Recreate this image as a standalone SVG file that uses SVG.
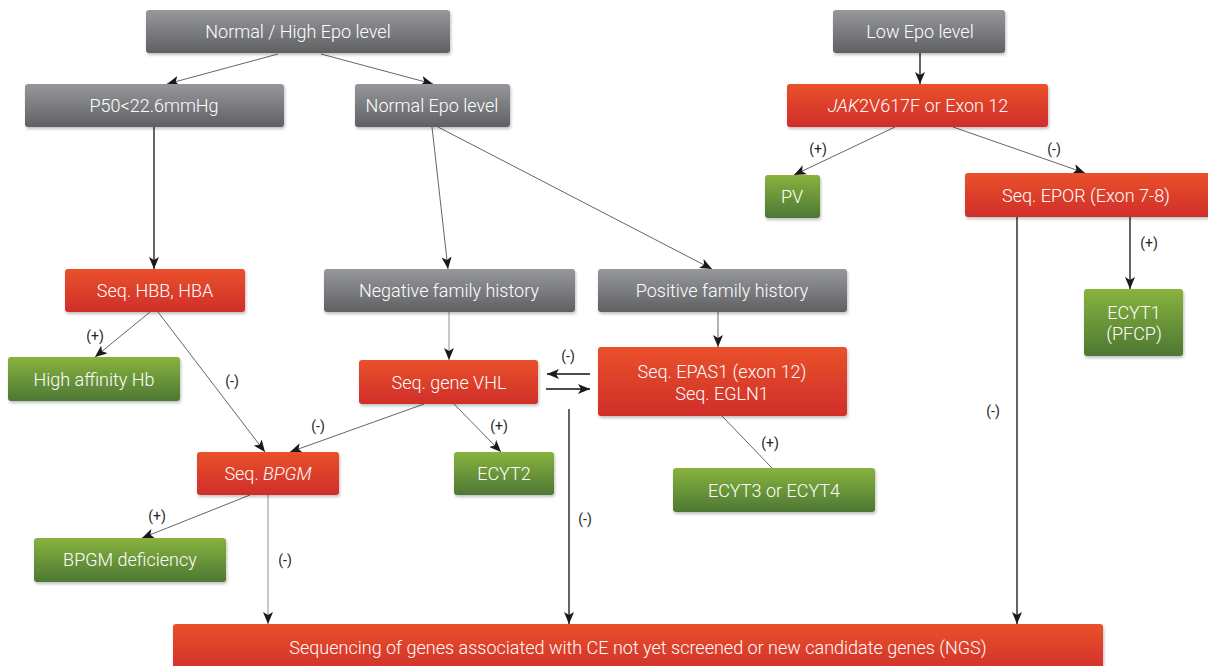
<svg xmlns="http://www.w3.org/2000/svg" width="1208" height="666" viewBox="0 0 1208 666">
<defs>
<linearGradient id="gGray" x1="0" y1="0" x2="0" y2="1"><stop offset="0" stop-color="#97989b"/><stop offset="1" stop-color="#5f6063"/></linearGradient>
<linearGradient id="gRed" x1="0" y1="0" x2="0" y2="1"><stop offset="0" stop-color="#e9512a"/><stop offset="1" stop-color="#d02e2b"/></linearGradient>
<linearGradient id="gGreen" x1="0" y1="0" x2="0" y2="1"><stop offset="0" stop-color="#88b33e"/><stop offset="1" stop-color="#4d7834"/></linearGradient>
<filter id="sh" x="-5%" y="-10%" width="110%" height="130%"><feDropShadow dx="1" dy="2" stdDeviation="1.5" flood-color="#000" flood-opacity="0.25"/></filter>
<marker id="ah" viewBox="0 0 12 10" refX="12" refY="5" markerWidth="12" markerHeight="10" markerUnits="userSpaceOnUse" orient="auto"><path d="M0,0 L12,5 L0,10 L3,5 z" fill="#1a1a1a"/></marker>
</defs>
<style>
.gray{fill:url(#gGray);filter:url(#sh)}
.red{fill:url(#gRed);filter:url(#sh)}
.green{fill:url(#gGreen);filter:url(#sh)}
text{font-family:Roboto,"Open Sans","Liberation Sans",sans-serif}
.t{fill:#fff;font-size:18px;font-weight:300;text-anchor:middle;dominant-baseline:central}
.lbl{fill:#222;font-size:14px;text-anchor:middle;dominant-baseline:central}
.c{fill:none;stroke:#555;stroke-width:0.9}
.cb{fill:none;stroke:#111;stroke-width:1.3}
.cg{fill:none;stroke:#aaa;stroke-width:1.3}
</style>
<rect width="1208" height="666" fill="#fff"/>
<g id="connectors">
<line class="c" x1="278" y1="54" x2="167" y2="84" marker-end="url(#ah)"/>
<line class="c" x1="321" y1="54" x2="433" y2="84" marker-end="url(#ah)"/>
<line class="cb" x1="154" y1="127" x2="154" y2="269" marker-end="url(#ah)"/>
<line class="c" x1="432" y1="127" x2="448" y2="269" marker-end="url(#ah)"/>
<line class="c" x1="438" y1="127" x2="712" y2="269" marker-end="url(#ah)"/>
<line class="cb" x1="920" y1="53" x2="920" y2="84" stroke-width="1.6" marker-end="url(#ah)"/>
<line class="c" x1="895" y1="127" x2="794" y2="175" marker-end="url(#ah)"/>
<line class="c" x1="953" y1="127" x2="1085" y2="173" marker-end="url(#ah)"/>
<line class="cb" x1="1130" y1="217" x2="1130" y2="289" marker-end="url(#ah)"/>
<line class="cb" x1="1017" y1="217" x2="1017" y2="624" marker-end="url(#ah)"/>
<line class="c" x1="150" y1="312" x2="95" y2="357" marker-end="url(#ah)"/>
<line class="c" x1="158" y1="312" x2="265" y2="452" marker-end="url(#ah)"/>
<line class="cg" x1="449" y1="312" x2="449" y2="360" marker-end="url(#ah)"/>
<line class="c" x1="424" y1="404" x2="290" y2="452" marker-end="url(#ah)"/>
<line class="c" x1="454" y1="404" x2="501" y2="452" marker-end="url(#ah)"/>
<line class="cb" x1="590" y1="374" x2="547" y2="374" marker-end="url(#ah)"/>
<line class="cb" x1="546" y1="389" x2="590" y2="389" marker-end="url(#ah)"/>
<line class="cb" x1="569" y1="409" x2="569" y2="624" marker-end="url(#ah)"/>
<line class="c" x1="718" y1="312" x2="718" y2="347" marker-end="url(#ah)"/>
<line class="c" x1="722" y1="416" x2="772" y2="468"/>
<line class="c" x1="250" y1="495" x2="142" y2="538" marker-end="url(#ah)"/>
<line class="cg" x1="268" y1="495" x2="268" y2="624" marker-end="url(#ah)"/>
<text class="lbl" x="818" y="149">(+)</text>
<text class="lbl" x="1054" y="149">(-)</text>
<text class="lbl" x="1149" y="243">(+)</text>
<text class="lbl" x="993" y="411">(-)</text>
<text class="lbl" x="95" y="336">(+)</text>
<text class="lbl" x="232" y="381">(-)</text>
<text class="lbl" x="318" y="426">(-)</text>
<text class="lbl" x="499" y="426">(+)</text>
<text class="lbl" x="568" y="356">(-)</text>
<text class="lbl" x="585" y="519">(-)</text>
<text class="lbl" x="770" y="443">(+)</text>
<text class="lbl" x="157" y="516">(+)</text>
<text class="lbl" x="285" y="560">(-)</text>
</g>
<g id="n-normalhigh"><rect class="gray" x="146" y="10" width="304" height="43" rx="3"/><text class="t" x="298" y="31">Normal / High Epo level</text></g>
<g id="n-p50"><rect class="gray" x="25" y="84" width="259" height="43" rx="3"/><text class="t" x="154" y="105">P50&lt;22.6mmHg</text></g>
<g id="n-normal"><rect class="gray" x="355" y="84" width="155" height="43" rx="3"/><text class="t" x="432" y="105">Normal Epo level</text></g>
<g id="n-low"><rect class="gray" x="833" y="10" width="172" height="43" rx="3"/><text class="t" x="920" y="31">Low Epo level</text></g>
<g id="n-jak2"><rect class="red" x="787" y="84" width="261" height="43" rx="3"/><text class="t" x="918" y="105"><tspan font-style="italic">JAK</tspan>2V617F or Exon 12</text></g>
<g id="n-pv"><rect class="green" x="765" y="175" width="55" height="43" rx="3"/><text class="t" x="792" y="196">PV</text></g>
<g id="n-epor"><rect class="red" x="965" y="173" width="250" height="44" rx="3"/><text class="t" x="1086" y="195">Seq. EPOR (Exon 7-8)</text></g>
<g id="n-hbb"><rect class="red" x="65" y="269" width="180" height="43" rx="3"/><text class="t" x="155" y="290">Seq. HBB, HBA</text></g>
<g id="n-neg"><rect class="gray" x="324" y="269" width="251" height="43" rx="3"/><text class="t" x="449" y="290">Negative family history</text></g>
<g id="n-pos"><rect class="gray" x="598" y="269" width="249" height="43" rx="3"/><text class="t" x="722" y="290">Positive family history</text></g>
<g id="n-ecyt1"><rect class="green" x="1084" y="289" width="99" height="67" rx="3"/><text class="t" x="1134" y="312">ECYT1</text><text class="t" x="1134" y="333">(PFCP)</text></g>
<g id="n-highaff"><rect class="green" x="8" y="357" width="172" height="44" rx="3"/><text class="t" x="94" y="379">High affinity Hb</text></g>
<g id="n-vhl"><rect class="red" x="359" y="360" width="179" height="44" rx="3"/><text class="t" x="449" y="382">Seq. gene VHL</text></g>
<g id="n-epas1"><rect class="red" x="598" y="347" width="249" height="69" rx="3"/><text class="t" x="722" y="371">Seq. EPAS1 (exon 12)</text><text class="t" x="722" y="393">Seq. EGLN1</text></g>
<g id="n-bpgm"><rect class="red" x="197" y="452" width="142" height="43" rx="3"/><text class="t" x="268" y="473">Seq. <tspan font-style="italic">BPGM</tspan></text></g>
<g id="n-ecyt2"><rect class="green" x="454" y="452" width="100" height="43" rx="3"/><text class="t" x="504" y="473">ECYT2</text></g>
<g id="n-ecyt34"><rect class="green" x="673" y="468" width="202" height="44" rx="3"/><text class="t" x="774" y="490">ECYT3 or ECYT4</text></g>
<g id="n-bpgmdef"><rect class="green" x="34" y="538" width="192" height="44" rx="3"/><text class="t" x="130" y="559">BPGM deficiency</text></g>
<g id="n-seq"><rect class="red" x="173" y="624" width="930" height="50" rx="3"/><text class="t" x="638" y="647">Sequencing of genes associated with CE not yet screened or new candidate genes (NGS)</text></g>
</svg>
